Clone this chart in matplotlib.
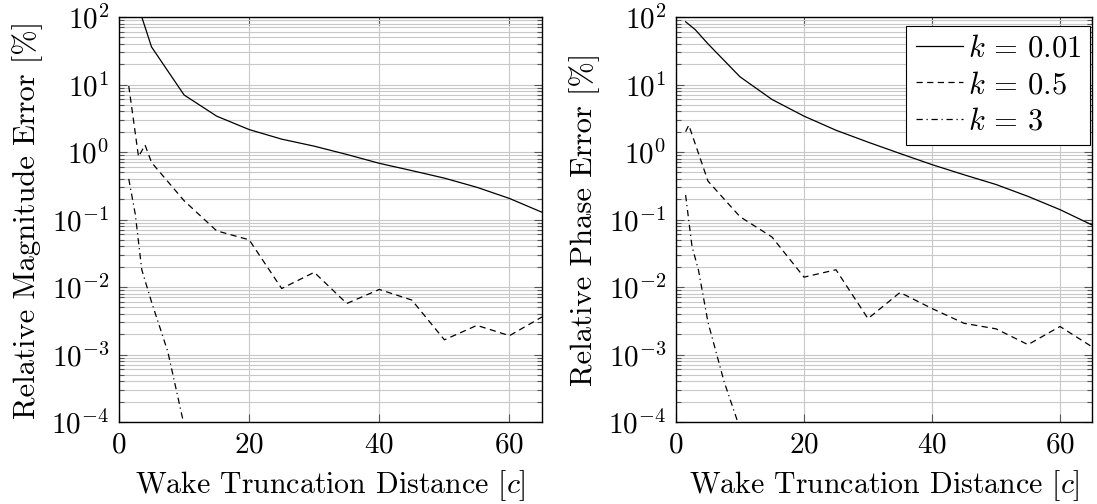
import matplotlib
matplotlib.use("Agg")
import matplotlib.pyplot as plt
import numpy as np

plt.rcParams['mathtext.fontset'] = 'cm'
plt.rcParams['font.family'] = 'serif'
plt.rcParams['font.serif'] = ['cmr10', 'DejaVu Serif']
plt.rcParams['axes.formatter.use_mathtext'] = True

# ---------------- data ----------------
# Magnitude error (left panel)
mag_x_k001 = [1.5, 5, 10, 15, 20, 25, 30, 35, 40, 45, 50, 55, 60, 65]
mag_y_k001 = [390, 36, 7.0, 3.4, 2.15, 1.55, 1.22, 0.92, 0.68, 0.53, 0.41, 0.30, 0.205, 0.128]

mag_x_k05 = [1.5, 3, 4, 5, 10, 15, 20, 25, 30, 35, 40, 45, 50, 55, 60, 65]
mag_y_k05 = [9.5, 0.85, 1.27, 0.7, 0.19, 0.068, 0.05, 0.0095, 0.0165, 0.0057, 0.0092,
             0.0064, 0.00165, 0.0027, 0.0019, 0.0036]

mag_x_k3 = [1.5, 2.5, 3.5, 5, 7.5, 10]
mag_y_k3 = [0.4, 0.12, 0.018, 0.006, 0.0011, 0.00009]

# Phase error (right panel)
ph_x_k001 = [1.5, 3, 5, 10, 15, 20, 25, 30, 35, 40, 45, 50, 55, 60, 65]
ph_y_k001 = [85, 65, 40, 13, 6.0, 3.4, 2.1, 1.4, 0.95, 0.65, 0.46, 0.33, 0.22, 0.14, 0.083]

ph_x_k05 = [1.5, 2, 5, 10, 15, 20, 25, 30, 35, 40, 45, 50, 55, 60, 65]
ph_y_k05 = [2.0, 2.5, 0.37, 0.11, 0.055, 0.014, 0.018, 0.0034, 0.0083, 0.0048,
            0.0029, 0.0024, 0.0014, 0.0026, 0.0013]

ph_x_k3 = [1.5, 2.5, 3.5, 5, 7.5, 10]
ph_y_k3 = [0.23, 0.04, 0.018, 0.003, 0.0004, 0.00008]

labels = [r'$k\,=\,0.01$', r'$k\,=\,0.5$', r'$k\,=\,3$']
xticks = [0, 20, 40, 60]
xlabel = 'Wake Truncation Distance [$c$]'
ylabels = ['Relative Magnitude Error [%]', 'Relative Phase Error [%]']

# ---------------- figure ----------------
W, H = 1097, 504
fig = plt.figure(figsize=(W / 100, H / 100), dpi=100)
ax1 = fig.add_axes([119 / W, 1 - 422 / H, 423 / W, 405 / H])
ax2 = fig.add_axes([676 / W, 1 - 422 / H, 416 / W, 405 / H])

styles = [dict(ls='-'), dict(ls=(0, (5, 3.5))), dict(ls=(0, (5, 3, 1, 3)))]

panels = [
    (ax1, [(mag_x_k001, mag_y_k001), (mag_x_k05, mag_y_k05), (mag_x_k3, mag_y_k3)]),
    (ax2, [(ph_x_k001, ph_y_k001), (ph_x_k05, ph_y_k05), (ph_x_k3, ph_y_k3)]),
]

for i, (ax, series) in enumerate(panels):
    for (xs, ys), st, lab in zip(series, styles, labels):
        ax.plot(xs, ys, color='black', lw=0.9, label=lab, **st)
    ax.set_yscale('log')
    ax.set_xlim(0, 65)
    ax.set_ylim(1e-4, 1e2)
    ax.set_xticks(xticks)
    ax.set_yticks([10.0 ** e for e in range(-4, 3)])
    ax.yaxis.set_minor_locator(matplotlib.ticker.LogLocator(base=10, subs=np.arange(2, 10), numticks=20))
    ax.yaxis.set_minor_formatter(matplotlib.ticker.NullFormatter())
    ax.grid(True, which='major', axis='both', color='#c8c8c8', lw=0.8)
    ax.grid(True, which='minor', axis='y', color='#c8c8c8', lw=0.8)
    ax.set_axisbelow(True)
    ax.tick_params(which='both', direction='in', top=True, right=True, labelsize=21,
                   width=0.8, color='#555555')
    ax.tick_params(which='major', length=6, pad=7)
    ax.tick_params(which='minor', length=3.5)
    for sp in ax.spines.values():
        sp.set_linewidth(1.0)
    ax.set_xlabel(xlabel, fontsize=21.5, labelpad=7)
    ax.set_ylabel(ylabels[i], fontsize=22, labelpad=6)

leg = ax2.legend(loc='upper right', fontsize=22, frameon=True, fancybox=False,
                 edgecolor='black', framealpha=1, handlelength=1.55, handletextpad=0.15,
                 borderpad=0.3, labelspacing=0.3, borderaxespad=0.0,
                 bbox_to_anchor=(0.995, 0.978))
leg.get_frame().set_linewidth(0.8)

fig.savefig('out.png', dpi=100)
